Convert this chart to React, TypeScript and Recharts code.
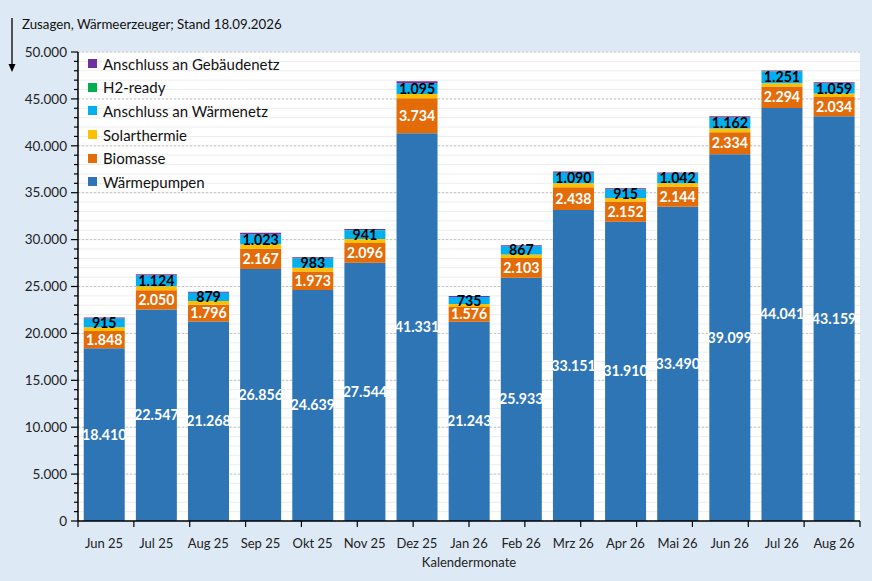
import React from "react";
import {
  Bar,
  BarChart,
  CartesianGrid,
  LabelList,
  Legend,
  XAxis,
  YAxis,
} from "recharts";

// Kalendermonate
const MONTHS = [
  "Jun 25", "Jul 25", "Aug 25", "Sep 25", "Okt 25", "Nov 25", "Dez 25",
  "Jan 26", "Feb 26", "Mrz 26", "Apr 26", "Mai 26", "Jun 26", "Jul 26", "Aug 26",
];

const WAERMEPUMPEN = [
  18410, 22547, 21268, 26856, 24639, 27544, 41331, 21243, 25933, 33151, 31910,
  33490, 39099, 44041, 43159,
];
const BIOMASSE = [
  1848, 2050, 1796, 2167, 1973, 2096, 3734, 1576, 2103, 2438, 2152, 2144, 2334,
  2294, 2034,
];
const SOLARTHERMIE = [
  400, 430, 380, 480, 400, 420, 450, 320, 380, 420, 380, 370, 400, 330, 380,
];
const WAERMENETZ = [
  915, 1124, 879, 1023, 983, 941, 1095, 735, 867, 1090, 915, 1042, 1162, 1251,
  1059,
];
const H2_READY = [10, 10, 10, 20, 10, 10, 30, 10, 10, 20, 10, 10, 20, 20, 20];
const GEBAEUDENETZ = [
  120, 140, 110, 180, 110, 120, 250, 90, 110, 130, 120, 110, 130, 80, 120,
];

const Y_MAJOR = [0, 5000, 10000, 15000, 20000, 25000, 30000, 35000, 40000, 45000, 50000];
const Y_MINOR = Array.from({ length: 51 }, (_, i) => i * 1000);
const X_BOUNDS = Array.from({ length: MONTHS.length + 1 }, (_, i) => i);

const SERIES = [
  { key: "wp", name: "Wärmepumpen", color: "#2e75b6", label: "#ffffff" },
  { key: "bio", name: "Biomasse", color: "#e36c09", label: "#ffffff" },
  { key: "solar", name: "Solarthermie", color: "#ffc000", label: null },
  { key: "netz", name: "Anschluss an Wärmenetz", color: "#00b0f0", label: "#000000" },
  { key: "h2", name: "H2-ready", color: "#00b050", label: null },
  { key: "geb", name: "Anschluss an Gebäudenetz", color: "#7030a0", label: null },
];

const data = MONTHS.map((m, i) => ({
  month: m,
  wp: WAERMEPUMPEN[i],
  bio: BIOMASSE[i],
  solar: SOLARTHERMIE[i],
  netz: WAERMENETZ[i],
  h2: H2_READY[i],
  geb: GEBAEUDENETZ[i],
}));

const FONT = "Lato, 'Open Sans', sans-serif";

const fmt = (v: number) =>
  String(Math.round(v)).replace(/\B(?=(\d{3})+(?!\d))/g, ".");

function YTick(props: any) {
  const { x, y, payload } = props;
  const major = payload.value % 5000 === 0;
  return (
    <g>
      <line
        x1={x - (major ? 7 : 4)}
        x2={x}
        y1={y}
        y2={y}
        stroke="#000"
        strokeWidth={1.2}
      />
      {major && (
        <text
          x={x - 11}
          y={y}
          dy="0.35em"
          textAnchor="end"
          fontSize={13.5}
          fontFamily={FONT}
          fill="#222"
        >
          {fmt(payload.value)}
        </text>
      )}
    </g>
  );
}

function LegendBox() {
  return (
    <div style={{ fontFamily: FONT, fontSize: 15, color: "#111" }}>
      {[...SERIES].reverse().map((s) => (
        <div
          key={s.key}
          style={{ display: "flex", alignItems: "center", height: 23.6 }}
        >
          <span
            style={{
              display: "inline-block",
              width: 9,
              height: 9,
              background: s.color,
              marginRight: 6,
            }}
          />
          {s.name}
        </div>
      ))}
    </div>
  );
}

export default function App() {
  return (
    <div
      style={{
        position: "relative",
        width: 872,
        height: 581,
        background: "#dde9f4",
        fontFamily: FONT,
      }}
    >
      <style>{"body{margin:0}"}</style>
      <svg
        width={300}
        height={80}
        style={{ position: "absolute", left: 0, top: 0 }}
      >
        <line x1={12} y1={18} x2={12} y2={66} stroke="#000" strokeWidth={1.3} />
        <polygon points="8.5,64 15.5,64 12,72" fill="#000" />
        <text x={22} y={29} fontSize={13.3} fontFamily={FONT} fill="#111">
          Zusagen, Wärmeerzeuger; Stand 18.09.2026
        </text>
      </svg>
      <BarChart
        width={872}
        height={581}
        data={data}
        margin={{ top: 52, right: 12, left: 0, bottom: 0 }}
        barCategoryGap="11%"
        style={{ position: "absolute", left: 0, top: 0 }}
      >
        <CartesianGrid
          fill="#ffffff"
          vertical={false}
          horizontalValues={Y_MINOR}
          stroke="#ededed"
        />
        <CartesianGrid
          vertical={false}
          horizontalValues={Y_MAJOR}
          stroke="#c4c4c4"
          strokeDasharray="2 2"
        />
        <XAxis
          xAxisId="bounds"
          type="number"
          domain={[0, MONTHS.length]}
          ticks={X_BOUNDS}
          allowDataOverflow
          tickFormatter={() => ""}
          tickSize={6}
          height={8}
          stroke="#000"
          axisLine={{ stroke: "#000", strokeWidth: 1.5 }}
          tickLine={{ stroke: "#000", strokeWidth: 1.2 }}
        />
        <XAxis
          xAxisId="cat"
          dataKey="month"
          interval={0}
          axisLine={false}
          tickLine={false}
          tickSize={0}
          tickMargin={10}
          height={52}
          tick={{ fill: "#222", fontSize: 13, fontFamily: FONT }}
          label={{
            value: "Kalendermonate",
            position: "insideBottom",
            offset: 14,
            fill: "#222",
            fontSize: 13,
            fontFamily: FONT,
          }}
        />
        <YAxis
          width={78}
          domain={[0, 50000]}
          ticks={Y_MINOR}
          interval={0}
          allowDataOverflow
          tick={<YTick />}
          tickLine={false}
          tickSize={0}
          tickMargin={0}
          axisLine={{ stroke: "#000", strokeWidth: 1.5 }}
        />
        <Legend
          layout="vertical"
          align="center"
          verticalAlign="middle"
          content={<LegendBox />}
          wrapperStyle={{ top: 52, left: 88, width: 260 }}
        />
        {SERIES.map((s) => (
          <Bar
            key={s.key}
            xAxisId="cat"
            dataKey={s.key}
            name={s.name}
            stackId="a"
            fill={s.color}
            isAnimationActive={false}
          >
            {s.label && (
              <LabelList
                dataKey={s.key}
                position="center"
                formatter={(v: any) => fmt(Number(v))}
                fill={s.label}
                fontSize={14.2}
                fontWeight={700}
                fontFamily={FONT}
              />
            )}
          </Bar>
        ))}
      </BarChart>
    </div>
  );
}
